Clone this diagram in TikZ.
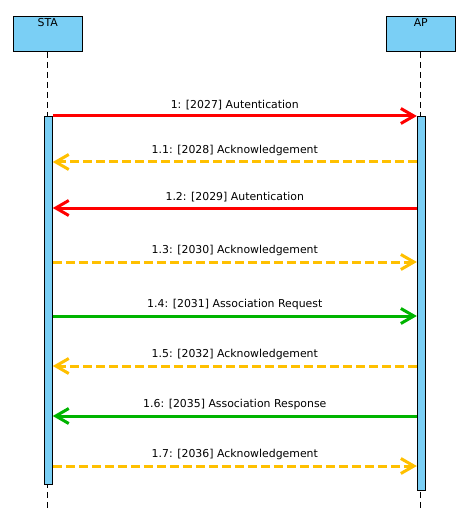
\documentclass[tikz,border=0pt]{standalone}
\usepackage{fontspec}
\setmainfont{DejaVu Sans}
\usetikzlibrary{arrows.meta}

\definecolor{lifeblue}{HTML}{7ACFF5}
\definecolor{msgred}{HTML}{FF0000}
\definecolor{msgyellow}{HTML}{FFC000}
\definecolor{msggreen}{HTML}{00B400}

\begin{document}
\begin{tikzpicture}[x=1pt,y=-1pt,font=\fontsize{10.9}{12}\selectfont]
			\tikzstyle{every node}+=[inner sep=0pt]
			\tikzstyle{actor}=[draw=black, line width=0.9pt, fill=lifeblue, minimum width=69pt, minimum height=35.5pt]
			\tikzstyle{bar}=[draw=black, line width=0.9pt, fill=lifeblue, minimum width=8pt]
			\tikzstyle{lifeline}=[black, line width=0.8pt, dash pattern=on 6pt off 4pt]
			\tikzstyle{msg}=[line width=3pt, -{Straight Barb[length=13pt, width=15pt, line width=3pt]}]
			\tikzstyle{reply}=[msg, dash pattern=on 9pt off 4pt]
			\useasboundingbox (0,0) rectangle (471,521);
			% actors
			\node [actor] (sta) at (47.8,33.75) {};
			\node [anchor=north] (stalbl) at ([yshift=-3pt]sta.north) {STA};
			\node [actor] (ap) at (420.8,33.75) {};
			\node [anchor=north] (aplbl) at ([yshift=-3pt]ap.north) {AP};
			\coordinate (staend) at (47.8,510);
			\coordinate (apend) at (420.8,510);
			\draw [lifeline] (sta.south) -- (staend);
			\draw [lifeline] (ap.south) -- (apend);
			% activations
			\node [bar, minimum height=367.8pt] (stabar) at (48.3,300.4) {};
			\node [bar, minimum height=373.8pt] (apbar) at (421.3,303.4) {};
			% messages
			\draw [msg, msgred] (stabar.east |- 0,116) -- (apbar.west |- 0,116)
				node [midway, above=5pt, text=black] (m1) {1: [2027] Autentication};
			\draw [reply, msgyellow] (apbar.west |- 0,162) -- (stabar.east |- 0,162)
				node [midway, above=5pt, text=black] (m11) {1.1: [2028] Acknowledgement};
			\draw [msg, msgred] (apbar.west |- 0,208) -- (stabar.east |- 0,208)
				node [midway, above=5pt, text=black] (m12) {1.2: [2029] Autentication};
			\draw [reply, msgyellow] (stabar.east |- 0,262) -- (apbar.west |- 0,262)
				node [midway, above=5pt, text=black] (m13) {1.3: [2030] Acknowledgement};
			\draw [msg, msggreen] (stabar.east |- 0,316) -- (apbar.west |- 0,316)
				node [midway, above=5pt, text=black] (m14) {1.4: [2031] Association Request};
			\draw [reply, msgyellow] (apbar.west |- 0,366) -- (stabar.east |- 0,366)
				node [midway, above=5pt, text=black] (m15) {1.5: [2032] Acknowledgement};
			\draw [msg, msggreen] (apbar.west |- 0,416) -- (stabar.east |- 0,416)
				node [midway, above=5pt, text=black] (m16) {1.6: [2035] Association Response};
			\draw [reply, msgyellow] (stabar.east |- 0,466) -- (apbar.west |- 0,466)
				node [midway, above=5pt, text=black] (m17) {1.7: [2036] Acknowledgement};
\end{tikzpicture}
\end{document}
